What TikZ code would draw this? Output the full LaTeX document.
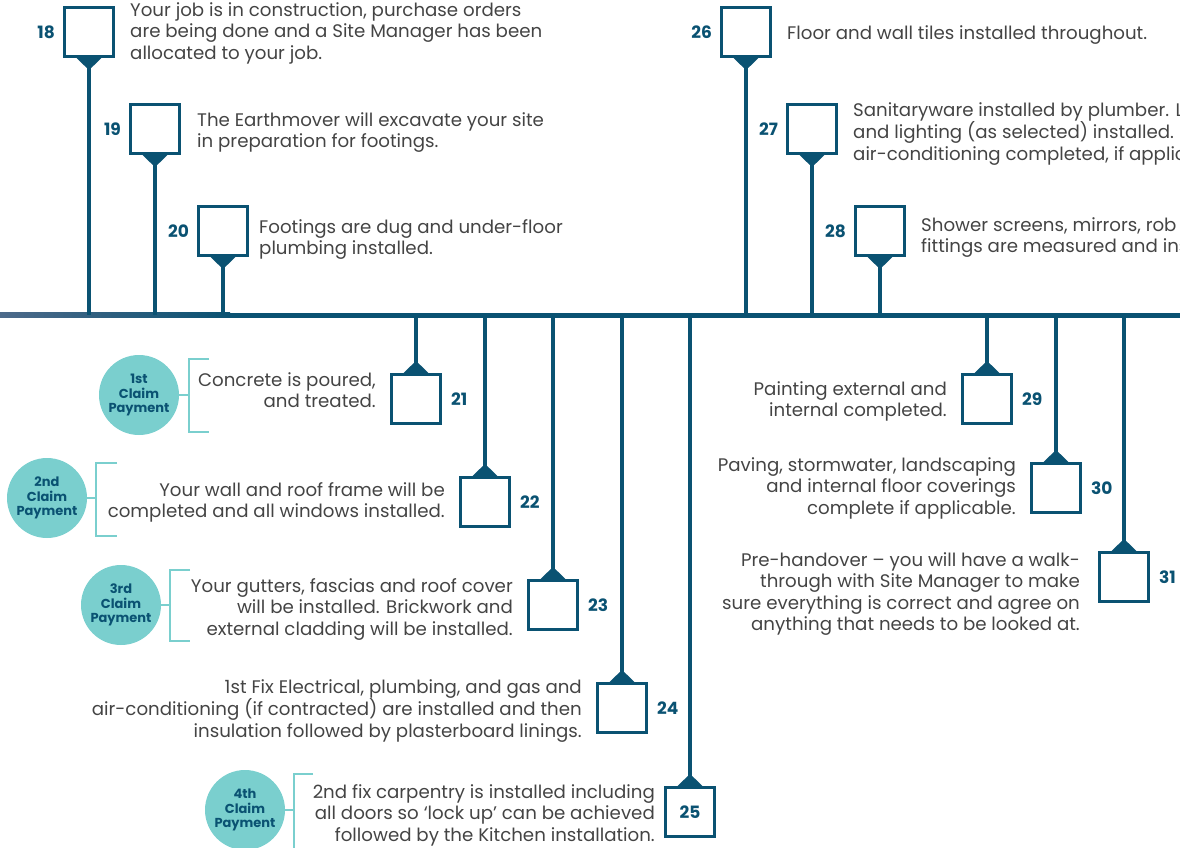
\documentclass[tikz,border=0pt]{standalone}
\usepackage{fontspec}
\setmainfont{Poppins}
\usepackage{tikz}
\usetikzlibrary{positioning}
\definecolor{navy}{HTML}{0A5272}
\definecolor{tlgrey}{HTML}{4D6A8A}
\definecolor{aqua}{HTML}{7ACFCE}
\definecolor{ink}{HTML}{444444}

\begin{document}
\begin{tikzpicture}[x=1pt,y=-1pt]
\tikzstyle{box}=[draw=navy,line width=2.8pt,minimum size=49pt,inner sep=0pt,fill=white]
\tikzstyle{num}=[font=\bfseries\fontsize{17}{20}\selectfont,text=navy,inner sep=0pt]
\tikzstyle{txt}=[font=\fontsize{18.2}{21.5}\selectfont,text=ink,inner sep=0pt]
\tikzstyle{stem}=[draw=navy,line width=4.5pt]
\tikzstyle{claim}=[circle,fill=aqua,minimum size=80pt,inner sep=0pt,align=center,text=navy,font=\bfseries\fontsize{13}{14.5}\selectfont]
\tikzstyle{bracket}=[draw=aqua,line width=2.6pt]
\useasboundingbox (0,0) rectangle (1180,848);
\clip (0,0) rectangle (1180,848);
% timeline
\coordinate (tl) at (0,315);
\shade[left color=tlgrey,right color=navy] (0,312.5) rectangle (230,317.5);
\fill[navy] (229,312.5) rectangle (1180,317.5);
% steps above the line
\node[box,label={[num,label distance=8pt]left:18}] (b18) at (89,32) {};
\node[box,label={[num,label distance=8pt]left:19}] (b19) at (155,129) {};
\node[box,label={[num,label distance=8pt]left:20}] (b20) at (223,231) {};
\node[box,label={[num,label distance=8pt]left:26}] (b26) at (746,32) {};
\node[box,label={[num,label distance=8pt]left:27}] (b27) at (812,129) {};
\node[box,label={[num,label distance=8pt]left:28}] (b28) at (880,231) {};
\draw[stem] (b18.south) -- (b18.south |- tl);
\draw[stem] (b19.south) -- (b19.south |- tl);
\draw[stem] (b20.south) -- (b20.south |- tl);
\draw[stem] (b26.south) -- (b26.south |- tl);
\draw[stem] (b27.south) -- (b27.south |- tl);
\draw[stem] (b28.south) -- (b28.south |- tl);
\fill[navy] (b18.south) ++(-12.5,0) -- ++(25,0) -- ++(-10.2,10) -- ++(-4.6,0) -- cycle;
\fill[navy] (b19.south) ++(-12.5,0) -- ++(25,0) -- ++(-10.2,10) -- ++(-4.6,0) -- cycle;
\fill[navy] (b20.south) ++(-12.5,0) -- ++(25,0) -- ++(-10.2,10) -- ++(-4.6,0) -- cycle;
\fill[navy] (b26.south) ++(-12.5,0) -- ++(25,0) -- ++(-10.2,10) -- ++(-4.6,0) -- cycle;
\fill[navy] (b27.south) ++(-12.5,0) -- ++(25,0) -- ++(-10.2,10) -- ++(-4.6,0) -- cycle;
\fill[navy] (b28.south) ++(-12.5,0) -- ++(25,0) -- ++(-10.2,10) -- ++(-4.6,0) -- cycle;
\node[txt,anchor=north west,align=left] (t18) at (130,2) {Your job is in construction, purchase orders\\are being done and a Site Manager has been\\allocated to your job.};
\node[txt,anchor=north west,align=left] (t19) at (197,112) {The Earthmover will excavate your site\\in preparation for footings.};
\node[txt,anchor=north west,align=left] (t20) at (259,219) {Footings are dug and under-floor\\plumbing installed.};
\node[txt,anchor=north west,align=left] (t26) at (787,25) {Floor and wall tiles installed throughout.};
\node[txt,anchor=north west,align=left] (t27) at (853,102) {Sanitaryware installed by plumber. L\\and lighting (as selected) installed. I\\air-conditioning completed, if applic};
\node[txt,anchor=north west,align=left] (t28) at (921,217) {Shower screens, mirrors, rob\\fittings are measured and ins};
% steps below the line
\node[box,label={[num,label distance=9pt]right:21}] (b21) at (416,399) {};
\node[box,label={[num,label distance=9pt]right:22}] (b22) at (485,502) {};
\node[box,label={[num,label distance=9pt]right:23}] (b23) at (553,605) {};
\node[box,label={[num,label distance=9pt]right:24}] (b24) at (622,708) {};
\node[box,num] (b25) at (690,812) {25};
\node[box,label={[num,label distance=9pt]right:29}] (b29) at (987,399) {};
\node[box,label={[num,label distance=9pt]right:30}] (b30) at (1056,488) {};
\node[box,label={[num,label distance=9pt]right:31}] (b31) at (1124,577) {};
\draw[stem] (b21.north |- tl) -- (b21.north);
\draw[stem] (b22.north |- tl) -- (b22.north);
\draw[stem] (b23.north |- tl) -- (b23.north);
\draw[stem] (b24.north |- tl) -- (b24.north);
\draw[stem] (b25.north |- tl) -- (b25.north);
\draw[stem] (b29.north |- tl) -- (b29.north);
\draw[stem] (b30.north |- tl) -- (b30.north);
\draw[stem] (b31.north |- tl) -- (b31.north);
\fill[navy] (b21.north) ++(-12.5,0) -- ++(25,0) -- ++(-10.2,-10) -- ++(-4.6,0) -- cycle;
\fill[navy] (b22.north) ++(-12.5,0) -- ++(25,0) -- ++(-10.2,-10) -- ++(-4.6,0) -- cycle;
\fill[navy] (b23.north) ++(-12.5,0) -- ++(25,0) -- ++(-10.2,-10) -- ++(-4.6,0) -- cycle;
\fill[navy] (b24.north) ++(-12.5,0) -- ++(25,0) -- ++(-10.2,-10) -- ++(-4.6,0) -- cycle;
\fill[navy] (b25.north) ++(-12.5,0) -- ++(25,0) -- ++(-10.2,-10) -- ++(-4.6,0) -- cycle;
\fill[navy] (b29.north) ++(-12.5,0) -- ++(25,0) -- ++(-10.2,-10) -- ++(-4.6,0) -- cycle;
\fill[navy] (b30.north) ++(-12.5,0) -- ++(25,0) -- ++(-10.2,-10) -- ++(-4.6,0) -- cycle;
\fill[navy] (b31.north) ++(-12.5,0) -- ++(25,0) -- ++(-10.2,-10) -- ++(-4.6,0) -- cycle;
\node[txt,anchor=north east,align=right] (t21) at (376,372) {Concrete is poured,\\and treated.};
\node[txt,anchor=north east,align=right] (t22) at (445,482) {Your wall and roof frame will be\\completed and all windows installed.};
\node[txt,anchor=north east,align=right] (t23) at (513,578) {Your gutters, fascias and roof cover\\will be installed. Brickwork and\\external cladding will be installed.};
\node[txt,anchor=north east,align=right] (t24) at (582,679) {1st Fix Electrical, plumbing, and gas and\\air-conditioning (if contracted) are installed and then\\insulation followed by plasterboard linings.};
\node[txt,anchor=north east,align=right] (t25) at (655,784) {2nd fix carpentry is installed including\\all doors so `lock up' can be achieved\\followed by the Kitchen installation.};
\node[txt,anchor=north east,align=right] (t29) at (947,381) {Painting external and\\internal completed.};
\node[txt,anchor=north east,align=right] (t30) at (1016,457) {Paving, stormwater, landscaping\\and internal floor coverings\\complete if applicable.};
\node[txt,anchor=north east,align=right] (t31) at (1080,552) {Pre-handover -- you will have a walk-\\through with Site Manager to make\\sure everything is correct and agree on\\anything that needs to be looked at.};
% claim payments
\node[claim] (c1) at (139,395) {1st\\Claim\\Payment};
\node[claim] (c2) at (47,498) {2nd\\Claim\\Payment};
\node[claim] (c3) at (121,605) {3rd\\Claim\\Payment};
\node[claim] (c4) at (245,810) {4th\\Claim\\Payment};
\coordinate (k1) at (189,395);
\coordinate (k2) at (96,498);
\coordinate (k3) at (170,605);
\coordinate (k4) at (294,810);
\draw[bracket] (c1.east) -- (k1);
\draw[bracket] (c2.east) -- (k2);
\draw[bracket] (c3.east) -- (k3);
\draw[bracket] (c4.east) -- (k4);
\draw[bracket] (209,359) -- (189,359) -- (189,432) -- (209,432);
\draw[bracket] (117,463) -- (96,463) -- (96,536) -- (117,536);
\draw[bracket] (190,570) -- (170,570) -- (170,641) -- (190,641);
\draw[bracket] (313,774) -- (294,774) -- (294,850) -- (313,850);
\end{tikzpicture}
\end{document}
